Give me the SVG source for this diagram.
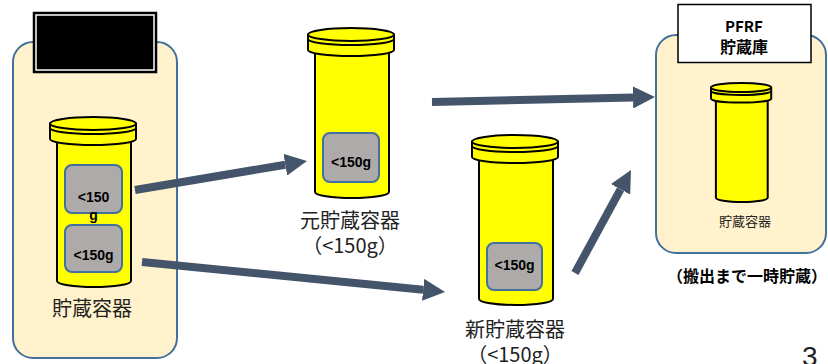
<svg xmlns="http://www.w3.org/2000/svg" xmlns:xlink="http://www.w3.org/1999/xlink" width="828" height="364" viewBox="0 0 828 364">
  <style>
    .panel { fill: #FFF2CC; stroke: #41719C; stroke-width: 2; }
    .yel { fill: #FFFF00; stroke: #000; stroke-width: 2; vector-effect: non-scaling-stroke; stroke-linejoin: round; }
    .line { fill: none; stroke: #000; stroke-width: 2; vector-effect: non-scaling-stroke; }
    .sample { fill: #AEAAAA; stroke: #41719C; stroke-width: 2; }
    .sampleText { font-family: "Liberation Sans", "Noto Sans CJK JP", sans-serif; font-weight: bold; font-size: 14px; fill: #000; text-anchor: middle; }
    .label { font-family: "Noto Sans CJK JP", sans-serif; font-size: 20px; fill: #222; text-anchor: middle; }
    .small { font-size: 13px; }
    .bold { font-family: "Noto Sans CJK JP", sans-serif; font-weight: bold; fill: #000; text-anchor: middle; }
    .arrow { fill: none; stroke: #44546A; stroke-width: 8; marker-end: url(#head); }
  </style>
  <defs>
    <marker id="head" viewBox="0 0 10 10" refX="0" refY="5" markerWidth="2.75" markerHeight="2.75" orient="auto">
      <path d="M0,0 L10,5 L0,10 Z" fill="#44546A"/>
    </marker>
    <!-- storage jar: lidded cylinder, 86 wide x 170 high -->
    <g id="jar">
      <path class="yel" d="M7,20 L7,164 A37,6 0 0 0 81,164 L81,20 Z"/>
      <path class="yel" d="M0,6.5 L0,22 A43,6 0 0 0 86,22 L86,6.5 Z"/>
      <ellipse class="yel" cx="43" cy="6.5" rx="43" ry="6.5"/>
      <path class="line" d="M0,11 A43,6 0 0 0 86,11"/>
    </g>
  </defs>

  <!-- source storage area -->
  <g id="source-area">
    <rect class="panel" x="13" y="42" width="164" height="316" rx="20"/>
    <rect x="33.5" y="12.5" width="123" height="60" fill="#000" stroke="#000" stroke-width="1.5"/>
    <rect x="36" y="15" width="118" height="55" fill="#000" stroke="#fff" stroke-width="1.5"/>
  </g>

  <g id="jar-source">
    <use xlink:href="#jar" transform="translate(50,117)"/>
    <rect class="sample" x="65" y="165" width="57" height="48" rx="7"/>
    <rect class="sample" x="65" y="225" width="57" height="47" rx="7"/>
    <text class="sampleText" x="93.5" y="202">&lt;150</text>
    <text class="sampleText" x="93.5" y="220">g</text>
    <text class="sampleText" x="93.5" y="260">&lt;150g</text>
    <text class="label" x="92" y="316">貯蔵容器</text>
  </g>

  <g id="jar-original">
    <use xlink:href="#jar" transform="translate(308,28)"/>
    <rect class="sample" x="323" y="133" width="56" height="49" rx="7"/>
    <text class="sampleText" x="351" y="167">&lt;150g</text>
    <text class="label" x="350" y="228">元貯蔵容器</text>
    <text class="label" x="350" y="253">（&lt;150g）</text>
  </g>

  <g id="jar-new">
    <use xlink:href="#jar" transform="translate(472,135)"/>
    <rect class="sample" x="487" y="243" width="55" height="47" rx="7"/>
    <text class="sampleText" x="514.5" y="270">&lt;150g</text>
    <text class="label" x="515" y="337">新貯蔵容器</text>
    <text class="label" x="515" y="362">（&lt;150g）</text>
  </g>

  <!-- PFRF store -->
  <g id="pfrf-store">
    <rect class="panel" x="656" y="35" width="170" height="218" rx="20"/>
    <rect x="678" y="4.5" width="133" height="58" fill="#fff" stroke="#000" stroke-width="1.5"/>
    <text class="bold" x="744" y="32" font-size="15">PFRF</text>
    <text class="bold" x="744" y="53" font-size="16">貯蔵庫</text>
  </g>

  <g id="jar-stored">
    <use xlink:href="#jar" transform="translate(711,83) scale(0.7)"/>
    <text class="label small" x="745" y="226">貯蔵容器</text>
  </g>

  <text class="bold" x="747" y="282" font-size="16">（搬出まで一時貯蔵）</text>

  <g id="connectors">
    <line class="arrow" x1="135" y1="190" x2="285.3" y2="164.7"/>
    <line class="arrow" x1="142" y1="262" x2="423.1" y2="289.8"/>
    <line class="arrow" x1="432" y1="102" x2="633" y2="97.5"/>
    <line class="arrow" x1="575" y1="273" x2="620.5" y2="189.3"/>
  </g>

  <text x="802" y="366" font-family="Liberation Sans, sans-serif" font-size="28" fill="#222">3</text>
</svg>
